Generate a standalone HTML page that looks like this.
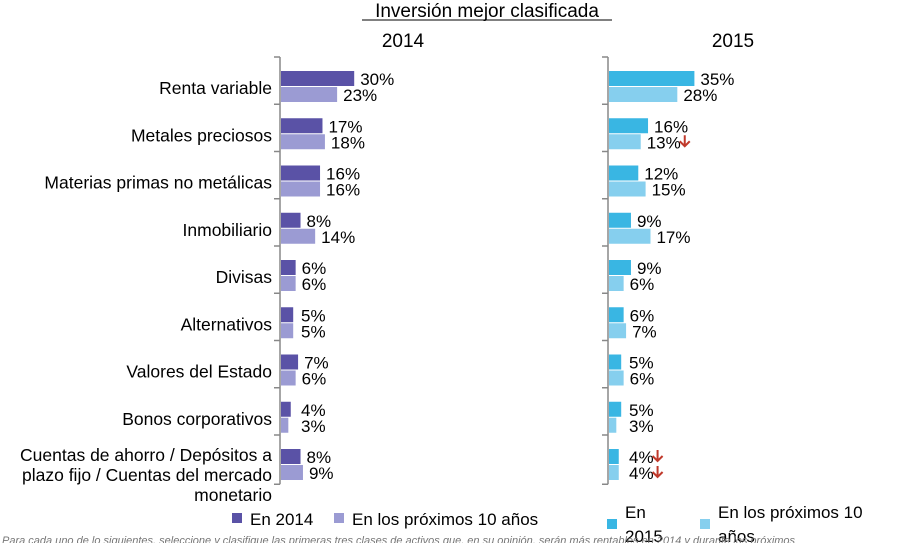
<!DOCTYPE html>
<html><head><meta charset="utf-8"><style>
body{margin:0;background:#fff;width:907px;height:543px;overflow:hidden;font-family:"Liberation Sans",Arial,sans-serif;}
svg{display:block}
</style></head><body>
<svg id="c" width="907" height="543" xmlns="http://www.w3.org/2000/svg">
<text x="487" y="17" text-anchor="middle" font-size="19">Inversión mejor clasificada</text>
<line x1="362" y1="20" x2="612" y2="20" stroke="#000" stroke-width="1"/>
<text x="403" y="47" text-anchor="middle" font-size="19">2014</text>
<text x="733" y="47" text-anchor="middle" font-size="19">2015</text>
<g id="plot"></g>
<g>
<rect x="232" y="513" width="10" height="10" fill="#5a52a6"/>
<text x="250" y="525" font-size="17">En 2014</text>
<rect x="334" y="513" width="10" height="10" fill="#9b9bd3"/>
<text x="352" y="525" font-size="17">En los próximos 10 años</text>
<rect x="607" y="519" width="10" height="10" fill="#39b6e3"/>
<text x="625" y="518" font-size="17"><tspan x="625">En</tspan><tspan x="625" dy="24">2015</tspan></text>
<rect x="700" y="519" width="10" height="10" fill="#86cfee"/>
<text x="718" y="518" font-size="17"><tspan x="718">En los próximos 10</tspan><tspan x="718" dy="24">años</tspan></text>
</g>
<text x="2" y="544" font-size="11" font-style="italic" fill="#777">Para cada uno de lo siguientes, seleccione y clasifique las primeras tres clases de activos que, en su opinión, serán más rentables en 2014 y durante los próximos</text>
</svg>
<script>
const categories=[["Renta variable"],["Metales preciosos"],["Materias primas no metálicas"],["Inmobiliario"],["Divisas"],["Alternativos"],["Valores del Estado"],["Bonos corporativos"],["Cuentas de ahorro / Depósitos a","plazo fijo / Cuentas del mercado","monetario"]];
const now2014=[30,17,16,8,6,5,7,4,8];
const next2014=[23,18,16,14,6,5,6,3,9];
const now2015=[35,16,12,9,9,6,5,5,4];
const next2015=[28,13,15,17,6,7,6,3,4];
const down2015=[false,false,false,false,false,false,false,false,true];
const downNext2015=[false,true,false,false,false,false,false,false,true];

const NS="http://www.w3.org/2000/svg";
const g=document.getElementById('plot');
const scale=2.44, top0=57, step=47.25, barH=15;
const xL=v=>v*scale, yCat=i=>top0+i*step;
function el(t,a){const e=document.createElementNS(NS,t);for(const k in a)e.setAttribute(k,a[k]);g.appendChild(e);return e;}
function arrow(x,y){
  const p=el('path',{d:`M${x+5} ${y-7} V${y+4} M${x} ${y-1} L${x+5} ${y+4} L${x+10} ${y-1}`,stroke:'#c0392b','stroke-width':2,fill:'none'});
  
  
}
[[280,now2014,next2014,'#5a52a6','#9b9bd3',null,null,'2014'],[608,now2015,next2015,'#39b6e3','#86cfee',down2015,downNext2015,'2015']].forEach(([ax,a,b,c1,c2,d1,d2,nm])=>{
  const axis=el('line',{x1:ax,y1:top0,x2:ax,y2:yCat(categories.length)+2,stroke:'#888','stroke-width':1.5});
  
  
  for(let i=0;i<=categories.length;i++){
    const t=el('line',{x1:ax-6,y1:yCat(i)+(i==categories.length?2:0),x2:ax,y2:yCat(i)+(i==categories.length?2:0),stroke:'#888','stroke-width':1.5});
    
    
  }
  categories.forEach((c,i)=>{
    const y1=yCat(i)+14, y2=y1+16;
    [[a[i],y1,c1,d1],[b[i],y2,c2,d2]].forEach(([v,y,col,d],k)=>{
      const r=el('rect',{x:ax+1,y:y,width:xL(v),height:barH,fill:col});
      
      
      const tx0=ax+1+Math.max(xL(v),14)+6;
      const tx=el('text',{x:tx0,y:y+14,'font-size':17});
      tx.textContent=v+'%';
      
      
      if(d&&d[i]){arrow(tx0+tx.getComputedTextLength()-1,y+8);}
    });
  });
});
categories.forEach((c,i)=>{
  const cy=yCat(i)+31+6;
  const n=c.length;
  const t=el('text',{x:272,y:cy-(n>1?11:0),'font-size':17.5,'text-anchor':'end'});
  
  
  c.forEach((s,j)=>{const sp=document.createElementNS(NS,'tspan');sp.setAttribute('x',272);if(j)sp.setAttribute('dy',20);sp.textContent=s;t.appendChild(sp);});
});
</script>
</body></html>
